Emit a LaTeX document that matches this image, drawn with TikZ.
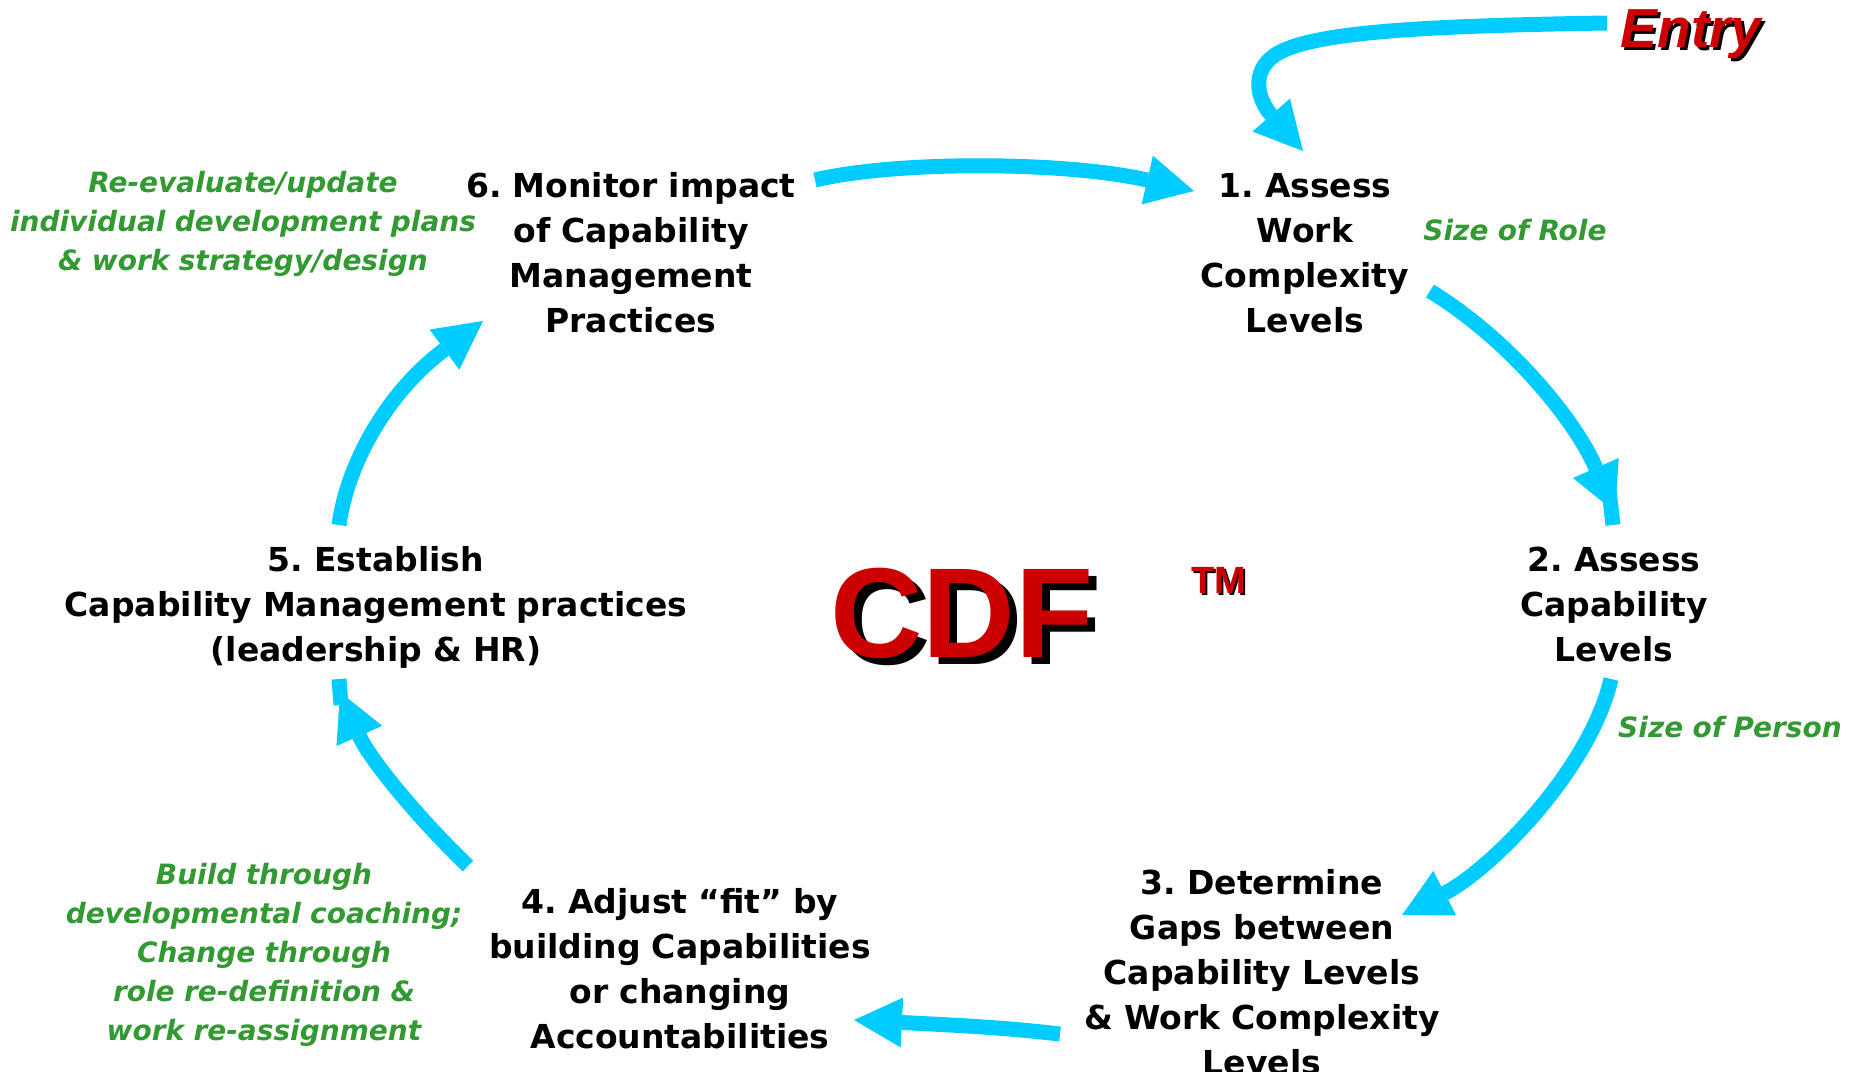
\documentclass[tikz,border=0pt]{standalone}
\usepackage{fontspec}
\setmainfont{DejaVu Sans}[BoldFont={DejaVu Sans Bold},ItalicFont={DejaVu Sans Oblique},BoldItalicFont={DejaVu Sans Bold Oblique}]
\newfontfamily\arialfont{Liberation Sans}
\usetikzlibrary{arrows.meta}
\definecolor{cyanA}{HTML}{00CCFF}
\definecolor{greenT}{HTML}{339933}
\definecolor{redT}{HTML}{CC0000}
\frenchspacing
\tikzset{
  stepnode/.style={font=\fontsize{33}{45}\selectfont\bfseries\frenchspacing, text width=700pt, align=center, anchor=base, inner sep=0pt},
  notenode/.style={font=\fontsize{28}{39}\selectfont\bfseries\itshape, text=greenT, text width=600pt, align=center, anchor=base, inner sep=0pt},
  flow/.style={line width=15pt, draw=cyanA, -{Triangle[length=48pt,width=50pt,line width=0pt]}},
  stub/.style={line width=15pt, draw=cyanA},
  entrystyle/.style={font=\arialfont\fontsize{55}{60}\selectfont\bfseries\itshape, anchor=base, inner sep=0pt},
  cdfstyle/.style={font=\arialfont\fontsize{128}{130}\selectfont\bfseries, anchor=base, inner sep=0pt},
  tmstyle/.style={font=\arialfont\fontsize{38}{40}\selectfont\bfseries, anchor=base, inner sep=0pt},
}
\begin{document}
\begin{tikzpicture}[x=1pt,y=-1pt]
\useasboundingbox (0,0) rectangle (1858,1071);

% step nodes
\node[stepnode] (n6) at (631,197) {6. Monitor impact\\of Capability\\Management\\Practices};
\node[stepnode] (n1) at (1305,197) {1. Assess\\Work\\Complexity\\Levels};
\node[stepnode] (n2) at (1614,571) {2. Assess\\Capability\\Levels};
\node[stepnode] (n5) at (376,571) {5. Establish\\Capability Management practices\\(leadership \& HR)};
\node[stepnode] (n3) at (1262,894) {3. Determine\\Gaps between\\Capability Levels\\\& Work Complexity\\Levels};
\node[stepnode] (n4) at (680,913) {4. Adjust “fit” by\\building Capabilities\\or changing\\Accountabilities};

% green notes
\node[notenode] (noteA) at (243,192) {Re-evaluate/update\\individual development plans\\\& work strategy/design};
\node[notenode] (noteB) at (264,884) {Build through\\developmental coaching;\\Change through\\role re-definition \&\\work re-assignment};
\node[notenode] (role) at (1515,240) {Size of Role};
\node[notenode] (person) at (1730,737) {Size of Person};

% Entry
\node[entrystyle, text=black] (entryS) at (1694,50) {Entry};
\node[entrystyle, text=redT] (entry) at (1691,47) {Entry};

% CDF TM
\node[cdfstyle, text=black] (cdfS) at (970,664) {CDF};
\node[cdfstyle, text=redT] (cdf) at (962,657) {CDF};
\node[tmstyle, text=black] (tmS) at (1221,595) {TM};
\node[tmstyle, text=redT] (tm) at (1219,593) {TM};

% connector end points
\coordinate (eS) at (1607,23);
\coordinate (eT) at (1303,151);
\coordinate (tS) at (815,180);
\coordinate (tT) at (1194,191);
\coordinate (r1S) at (1430,291);
\coordinate (r1T) at (1615,512);
\coordinate (r1E) at (1613,525);
\coordinate (r2S) at (1611,679);
\coordinate (r2T) at (1402,915);
\coordinate (bS) at (1060,1034);
\coordinate (bT) at (854,1020);
\coordinate (l1S) at (468,866);
\coordinate (l1T) at (340,692);
\coordinate (l1E) at (339,679);
\coordinate (l2S) at (339,525);
\coordinate (l2T) at (483,321);

% connectors
\draw[flow] (eS) .. controls (1420,26) and (1310,32) .. (1275,55) .. controls (1250,72) and (1258,100) .. (eT);
\draw[flow] (tS) .. controls (900,160) and (1070,162) .. (tT);
\draw[flow] (r1S) .. controls (1510,340) and (1575,420) .. (r1T);
\draw[stub] (1609,490) -- (r1E);
\draw[flow] (r2S) .. controls (1590,770) and (1490,870) .. (r2T);
\draw[flow] (bS) .. controls (1000,1027) and (950,1025) .. (bT);
\draw[flow] (l1S) .. controls (420,820) and (370,760) .. (l1T);
\draw[stub] (341,705) -- (l1E);
\draw[flow] (l2S) .. controls (348,460) and (390,390) .. (l2T);
\end{tikzpicture}
\end{document}
